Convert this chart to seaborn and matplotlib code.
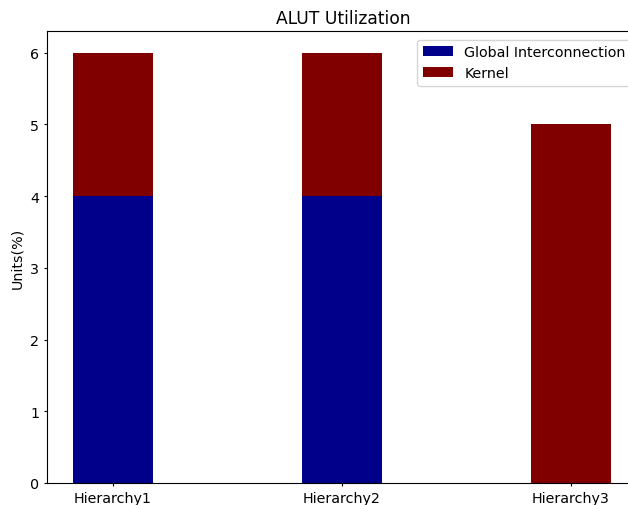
import numpy as np
import pandas as pd
import seaborn as sns
import matplotlib.pyplot as plt

categories = ["Hierarchy1", "Hierarchy2", "Hierarchy3"]
global_interconnection = [4, 4, 0]
kernel = [2, 2, 5]

df = pd.DataFrame({
    "hierarchy": categories,
    "global": global_interconnection,
    "kernel": kernel,
})
df["total"] = df["global"] + df["kernel"]

fig = plt.figure(figsize=(6.28, 5.06), dpi=100)
ax = fig.add_axes([47 / 628, 22 / 506, 593 / 628, 452 / 506])

# stacked: draw totals in maroon, then the lower segment in navy
sns.barplot(data=df, x="hierarchy", y="total", color="#800000", saturation=1,
            width=0.35, linewidth=0, ax=ax, label="Kernel")
sns.barplot(data=df, x="hierarchy", y="global", color="#00008b", saturation=1,
            width=0.35, linewidth=0, ax=ax, label="Global Interconnection")

ax.set_xlim(-0.288, 2.301)
ax.set_ylim(0, 6.3)
ax.set_xlabel("")
ax.set_ylabel("Units(%)", fontsize=10.3)
ax.set_title("ALUT Utilization", fontsize=12.3)
ax.tick_params(axis="both", labelsize=10.3, length=2.5, pad=3)

handles, labels = ax.get_legend_handles_labels()
ax.legend(handles[::-1], labels[::-1], loc="upper right", fontsize=10.3,
          handlelength=2.1, borderaxespad=0.6)

fig.savefig("out.png", dpi=100)
